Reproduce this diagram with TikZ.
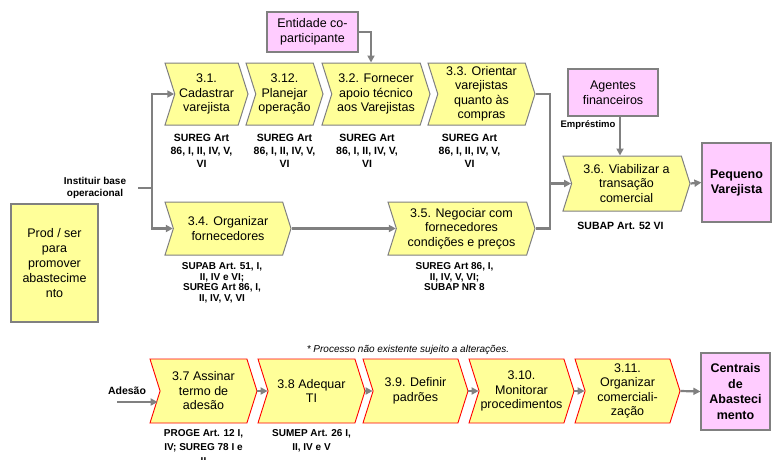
\documentclass[tikz,border=0pt]{standalone}
\usepackage{fontspec}
\setmainfont{Liberation Sans}
\usetikzlibrary{shapes.symbols,positioning,arrows.meta}

\definecolor{amarelo}{RGB}{255,255,153}
\definecolor{rosa}{RGB}{255,204,255}
\definecolor{cinza}{RGB}{128,128,128}

\tikzset{
  etapa/.style={signal,signal from=west,signal to=east,signal pointer angle=145,
    draw=cinza,line width=1pt,fill=amarelo,align=center,inner sep=0pt,
    font=\fontsize{12.5}{14.5}\selectfont},
  etapanova/.style={etapa,draw=red,line width=0.9pt},
  caixa/.style={rectangle,draw=cinza,line width=1.2pt,fill=rosa,align=center,
    inner sep=1pt,font=\fontsize{12.5}{15}\selectfont},
  legal/.style={align=center,inner sep=0pt,font=\bfseries\fontsize{10.5}{13}\selectfont},
  legalaperto/.style={legal,font=\bfseries\fontsize{10}{10.5}\selectfont},
  linha/.style={draw=cinza,line width=2.2pt},
  seta/.style={linha,-{Triangle[length=7pt,width=7pt]}},
}

\begin{document}
\begin{tikzpicture}[x=1pt,y=-1pt]
\useasboundingbox (0,0) rectangle (773,459);

% linha de cima
\node[etapa,minimum width=83pt,minimum height=62pt]	(p31)	at (206.5,94)	{3.1.\\Cadastrar\\varejista};
\node[etapa,minimum width=77pt,minimum height=62pt]	(p312)	at (284.5,94)	{3.12.\\Planejar\\operação};
\node[etapa,minimum width=108pt,minimum height=62pt]	(p32)	at (376,94)	{3.2. Fornecer\\apoio técnico\\aos Varejistas};
\node[etapa,minimum width=107pt,minimum height=62pt]	(p33)	at (481.5,94)	{3.3. Orientar\\varejistas\\quanto às\\compras};
\node[etapa,minimum width=126pt,minimum height=53pt]	(p34)	at (228,228.5)	{3.4. Organizar\\fornecedores};
\node[etapa,minimum width=147pt,minimum height=53pt]	(p35)	at (461.5,228.5)	{3.5. Negociar com\\fornecedores\\condições e preços};
\node[etapa,minimum width=127pt,minimum height=55pt]	(p36)	at (626.5,183.5)	{3.6. Viabilizar a\\transação\\comercial};

\node[caixa,minimum width=91pt,minimum height=40pt]	(ent)	at (312.5,32)	{Entidade co-\\participante};
\node[caixa,minimum width=90pt,minimum height=47pt]	(agf)	at (613,92.5)	{Agentes\\financeiros};
\node[caixa,minimum width=69pt,minimum height=79pt,font=\bfseries\fontsize{12.5}{15}\selectfont]	(peq)	at (736.5,182.5)	{Pequeno\\Varejista};
\node[caixa,fill=amarelo,minimum width=87pt,minimum height=118pt]	(prod)	at (54.5,263)	{Prod / ser\\para\\promover\\abastecime\\nto};

\node[legal,below=8pt of p31,xshift=-5pt]	(r31)	{SUREG Art\\86, I, II, IV, V,\\VI};
\node[legal,below=8pt of p312]	(r312)	{SUREG Art\\86, I, II, IV, V,\\VI};
\node[legal,below=8pt of p32,xshift=-9pt]	(r32)	{SUREG Art\\86, I, II, IV, V,\\VI};
\node[legal,below=8pt of p33,xshift=-12pt]	(r33)	{SUREG Art\\86, I, II, IV, V,\\VI};
\node[legalaperto,below=7pt of p34,xshift=-6pt]	(r34)	{SUPAB Art. 51, I,\\II, IV e VI;\\SUREG Art 86, I,\\II, IV, V, VI};
\node[legalaperto,below=7pt of p35,xshift=-7pt]	(r35)	{SUREG Art 86, I,\\II, IV, V, VI;\\SUBAP NR 8};
\node[legal,below=10pt of p36,xshift=-6pt]	(r36)	{SUBAP Art. 52 VI};

\node[font=\bfseries\fontsize{10}{12}\selectfont,align=center,inner sep=0pt]	(inst)	at (95,188)	{Instituir base\\operacional};
\node[font=\bfseries\fontsize{9.5}{11}\selectfont,inner sep=0pt]	(emp)	at (588,125)	{Empréstimo};

\coordinate (tronco) at (152,188);
\coordinate (jn) at (550,183.5);

\draw[linha,shorten <=12pt]	(inst.east) -- (tronco);
\draw[seta]	(tronco) |- (p31.west);
\draw[seta]	(tronco) |- (p34.west);
\draw[seta]	(p34.east) -- (p35.west);
\draw[linha]	(p33.east) -| (jn) |- (p35.east);
\draw[seta]	(jn) -- (p36.west);
\draw[seta]	(ent.east) -| ([xshift=-5pt]p32.north);
\draw[seta]	([xshift=7pt]agf.south) -- ([xshift=-6.5pt]p36.north);
\draw[seta]	(p36.east) -- (peq.west);

% linha de baixo
\node[font=\itshape\fontsize{10}{12}\selectfont,inner sep=0pt]	(nota)	at (408,350)	{* Processo não existente sujeito a alterações.};

\node[etapanova,minimum width=107pt,minimum height=64pt]	(p37)	at (203.5,391)	{3.7 Assinar\\termo de\\adesão};
\node[etapanova,minimum width=107pt,minimum height=64pt]	(p38)	at (311.5,391)	{3.8 Adequar\\TI};
\node[etapanova,minimum width=105pt,minimum height=64pt]	(p39)	at (415.5,391)	{3.9. Definir\\padrões};
\node[etapanova,minimum width=105pt,minimum height=64pt]	(p310)	at (521.5,391)	{3.10.\\Monitorar\\procedimentos};
\node[etapanova,minimum width=105pt,minimum height=64pt]	(p311)	at (627.5,391)	{3.11.\\Organizar\\comerciali-\\zação};
\node[caixa,minimum width=69pt,minimum height=77pt,font=\bfseries\fontsize{12.5}{15.5}\selectfont]	(cen)	at (735.5,391.5)	{Centrais\\de\\Abasteci\\mento};

\node[legal,font=\bfseries\fontsize{10}{14}\selectfont,below=6pt of p37]	(r37)	{PROGE Art. 12 I,\\IV; SUREG 78 I e\\II};
\node[legal,font=\bfseries\fontsize{10}{14}\selectfont,below=6pt of p38]	(r38)	{SUMEP Art. 26 I,\\II, IV e V};

\node[legal,font=\bfseries\fontsize{10.5}{12}\selectfont]	(ades)	at (127,391)	{Adesão};
\coordinate (ad) at (117,402);

\draw[seta]	(ad) -- ([xshift=-2pt]ad -| p37.west);
\draw[seta]	(p37.east) -- (p38.west);
\draw[seta]	(p38.east) -- (p39.west);
\draw[seta]	(p39.east) -- (p310.west);
\draw[seta]	(p310.east) -- (p311.west);
\draw[seta]	(p311.east) -- (cen.west);
\end{tikzpicture}
\end{document}
